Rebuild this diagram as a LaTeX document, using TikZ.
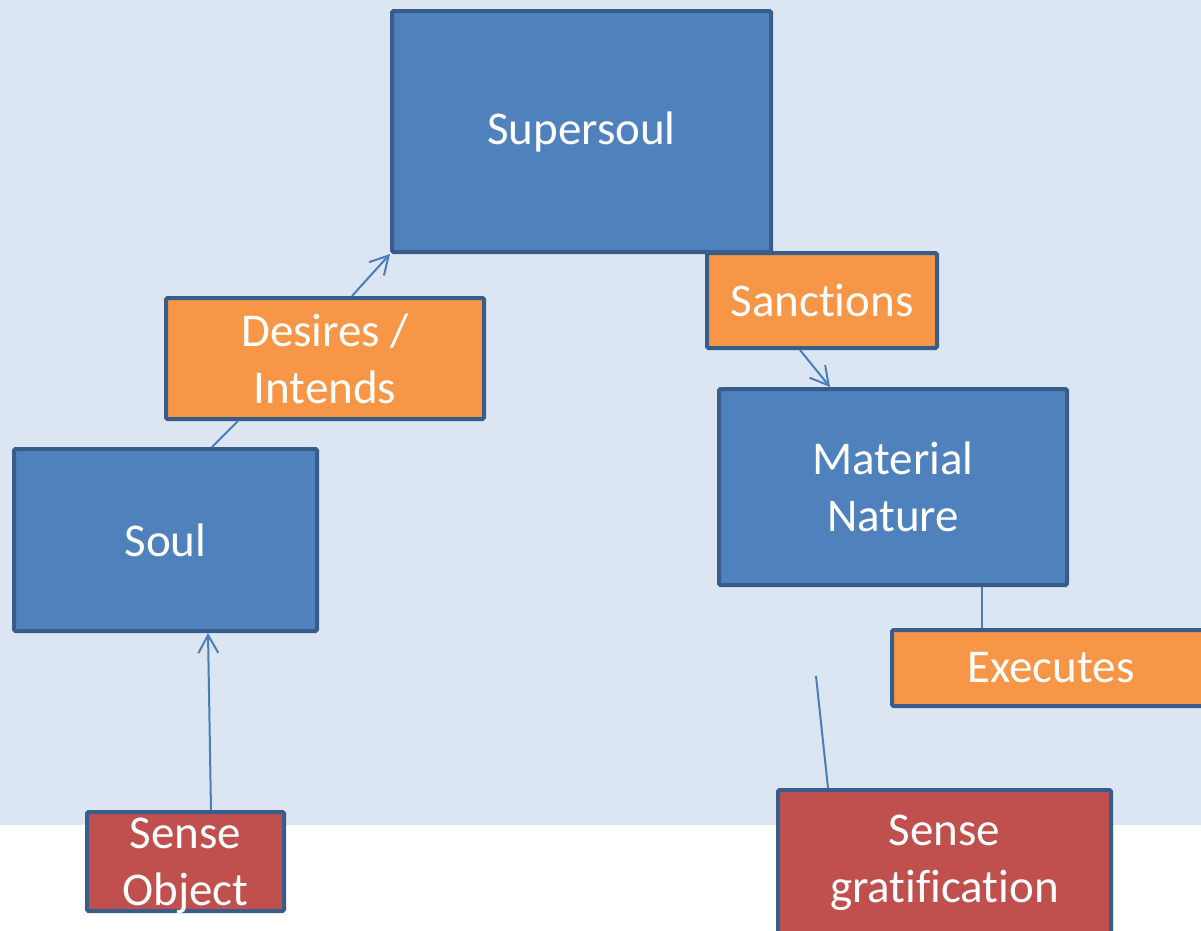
\documentclass[tikz,border=0pt]{standalone}
\usepackage{fontspec}
\setmainfont{Carlito}[Ligatures=NoCommon]
\usepackage{tikz}
\usepackage{xcolor}
\usetikzlibrary{arrows.meta,positioning,calc}
\definecolor{bgblue}{RGB}{220,230,242}
\definecolor{boxblue}{RGB}{79,129,189}
\definecolor{boxorange}{RGB}{247,150,70}
\definecolor{boxred}{RGB}{192,80,77}
\definecolor{edgeblue}{RGB}{56,93,138}
\definecolor{linkblue}{RGB}{74,126,187}

\begin{document}
\begin{tikzpicture}[x=1pt, y=-1pt,
  box/.style={draw=edgeblue, line width=4pt, rounded corners=1.5pt, inner sep=0pt,
    text=white, align=center, font=\fontsize{47pt}{57pt}\selectfont},
  link/.style={draw=linkblue, line width=2pt},
  arr/.style={link, -{Straight Barb[length=18pt, width=20pt]}}]
  \useasboundingbox (0,0) rectangle (1201,930);
  \fill[white] (0,0) rectangle (1201,930);
  \fill[bgblue] (0,0) rectangle (1201,825);

  % blue boxes
  \node[box, fill=boxblue, minimum width=379pt, minimum height=241pt] (supersoul) at (581.5,131.5) {Supersoul};
  \node[box, fill=boxblue, minimum width=303pt, minimum height=182pt] (soul) at (165.5,540) {Soul};
  \node[box, fill=boxblue, minimum width=348pt, minimum height=196pt] (material) at (893,487) {Material\\Nature};
  % orange boxes
  \node[box, fill=boxorange, minimum width=318pt, minimum height=121pt] (desires) at (325,358.5) {Desires /\\Intends};
  \node[box, fill=boxorange, minimum width=230pt, minimum height=95pt] (sanctions) at (822,300.5) {Sanctions};
  \node[box, fill=boxorange, minimum width=318pt, minimum height=76pt] (executes) at (1051,668) {Executes};
  % red boxes
  \node[box, fill=boxred, minimum width=197pt, minimum height=99pt,
    label={[box, draw=none, fill=none, yshift=-4pt]center:Sense\\Object}] (senseobj) at (185.5,861.5) {};
  \node[box, fill=boxred, minimum width=333pt, minimum height=145pt] (sensegrat) at (944.5,862.5) {Sense\\gratification};

  \coordinate (gratend) at (816,676);

  \draw[link] ([xshift=46.5pt]soul.north) -- ([xshift=-87pt]desires.south);
  \draw[arr] ([xshift=27pt]desires.north) -- (supersoul.south west);
  \draw[arr] ([xshift=-22pt]sanctions.south) -- ([xshift=-63pt]material.north);
  \draw[link] ([xshift=89pt]material.south) -- ([xshift=89pt]material.south |- executes.north);
  \draw[link] (gratend) -- ([xshift=-116.5pt]sensegrat.north);
  \draw[arr] ([xshift=25.5pt]senseobj.north) -- ([xshift=42.5pt]soul.south);
\end{tikzpicture}
\end{document}
